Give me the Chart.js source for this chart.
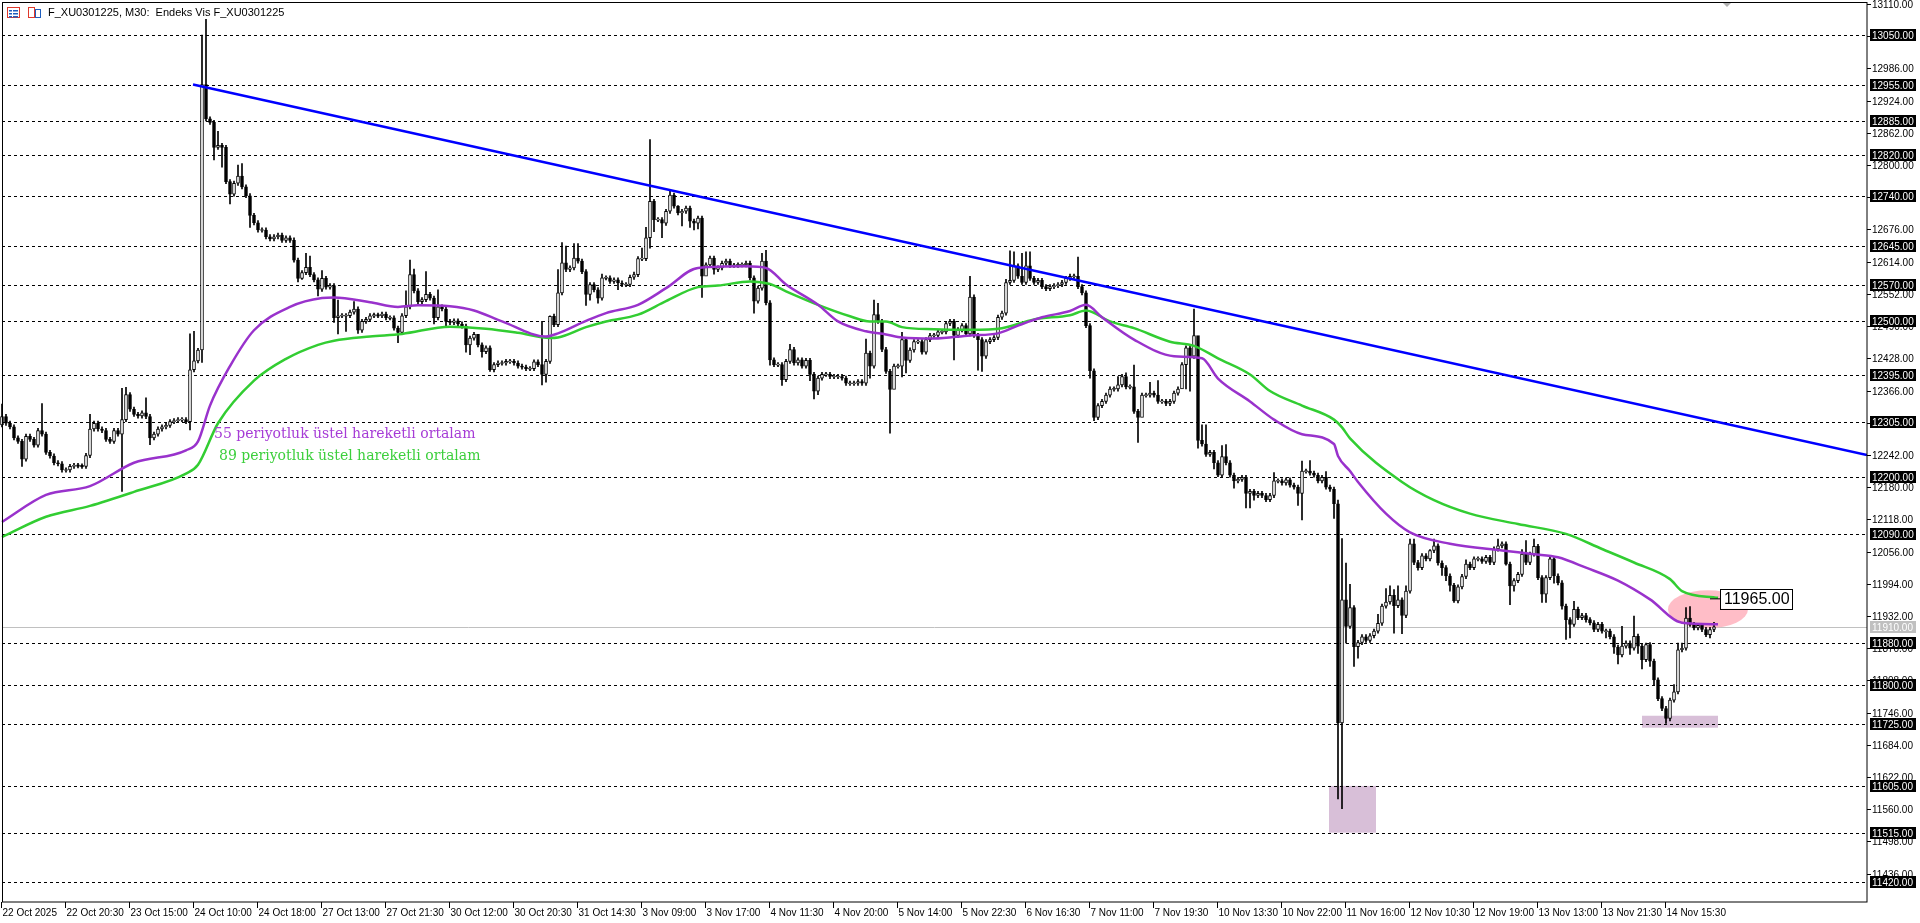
<!DOCTYPE html>
<html><head><meta charset="utf-8">
<script src="https://cdn.jsdelivr.net/npm/chart.js@4.4.1/dist/chart.umd.min.js"></script>
<style>html,body{margin:0;padding:0;background:#fff;overflow:hidden}#wrap{width:1920px;height:923px;position:relative}</style>
</head><body><div id="wrap"><canvas id="c" width="1920" height="923"></canvas></div>
<script>
const firstOpen = 12300;
const closes = [
12316,12303,12296,12275,12268,12234,12278,12272,12261,12289,
12282,12247,12240,12227,12225,12213,12213,12220,12222,12221,
12220,12241,12292,12303,12292,12289,12272,12268,12289,12282,
12310,12358,12330,12320,12317,12323,12316,12275,12282,12292,
12296,12299,12306,12308,12310,12310,12306,12406,12423,12444,
12955,12889,12882,12834,12838,12834,12768,12744,12765,12779,
12758,12741,12703,12689,12675,12675,12662,12658,12662,12665,
12655,12660,12655,12617,12582,12593,12603,12589,12579,12561,
12582,12565,12568,12506,12510,12510,12510,12517,12523,12482,
12499,12503,12510,12511,12510,12513,12506,12506,12486,12478,
12510,12527,12589,12558,12537,12541,12551,12544,12506,12527,
12523,12499,12497,12500,12494,12490,12454,12467,12474,12454,
12441,12448,12406,12416,12419,12419,12422,12422,12419,12413,
12411,12408,12408,12421,12416,12397,12422,12509,12493,12554,
12612,12599,12602,12621,12615,12595,12551,12570,12560,12544,
12583,12583,12576,12579,12573,12570,12570,12584,12589,12620,
12620,12660,12730,12695,12695,12688,12711,12742,12721,12708,
12711,12717,12692,12688,12698,12586,12608,12621,12599,12602,
12611,12615,12607,12607,12608,12608,12611,12583,12538,12563,
12615,12535,12425,12416,12416,12387,12422,12445,12419,12425,
12413,12424,12397,12365,12390,12397,12397,12393,12393,12393,
12390,12380,12380,12380,12383,12380,12438,12413,12512,12499,
12445,12403,12368,12413,12413,12464,12424,12444,12460,12460,
12440,12464,12472,12472,12479,12479,12495,12499,12472,12483,
12491,12475,12546,12472,12464,12432,12460,12464,12468,12507,
12515,12574,12578,12606,12586,12574,12606,12582,12574,12578,
12566,12562,12566,12568,12570,12574,12582,12586,12586,12566,
12554,12491,12404,12314,12337,12345,12357,12369,12369,12377,
12393,12373,12373,12326,12314,12357,12357,12361,12357,12345,
12345,12341,12345,12361,12369,12416,12448,12432,12472,12270,
12263,12243,12247,12227,12203,12239,12227,12203,12192,12195,
12199,12168,12172,12164,12168,12164,12156,12164,12192,12192,
12188,12194,12184,12180,12168,12211,12211,12207,12203,12192,
12199,12180,12176,12148,11726,11963,11912,11948,11873,11881,
11892,11885,11894,11903,11918,11951,11959,11972,11952,11963,
11933,11980,12071,12035,12025,12048,12042,12058,12067,12034,
12025,12009,11991,11961,11988,12008,12032,12025,12042,12042,
12037,12045,12035,12061,12067,12071,12032,11990,12000,12012,
12051,12035,12051,12066,12006,11974,12006,12042,12009,11996,
11951,11925,11916,11945,11929,11933,11925,11919,11906,11916,
11903,11903,11892,11872,11857,11874,11880,11870,11893,11874,
11848,11877,11845,11809,11773,11754,11735,11770,11786,11867,
11870,11928,11916,11909,11914,11906,11896,11906,11911];
const highWicks = {0:12340,10:12341,22:12320,30:12370,31:12372,36:12352,47:12475,48:12480,49:12447,50:13050,51:13096,54:12865,59:12800,60:12803,73:12660,76:12630,77:12625,80:12597,84:12540,88:12537,101:12558,102:12617,103:12600,106:12595,109:12560,
119:12470,135:12499,137:12510,139:12599,140:12651,141:12644,143:12649,144:12649,150:12590,158:12594,160:12640,161:12680,162:12849,167:12750,169:12722,190:12630,191:12636,197:12455,216:12465,218:12540,219:12534,
225:12478,242:12586,251:12580,252:12635,253:12633,255:12630,256:12633,257:12633,269:12623,279:12393,281:12400,283:12415,287:12382,289:12385,298:12523,299:12460,300:12300,301:12300,305:12260,306:12262,318:12208,325:12230,327:12231,331:12210,334:12155,335:12081,336:12034,
337:11993,344:11935,346:11985,347:11990,348:11983,349:11990,351:11990,352:12080,353:12080,357:12060,358:12080,366:12040,373:12065,374:12080,380:12060,381:12077,383:12080,393:11960,405:11912,408:11932,411:11880,418:11800,419:11880,420:11880,421:11948,422:11950,428:11920};
const lowWicks = {5:12220,30:12172,37:12262,47:12290,50:12420,53:12810,55:12796,57:12725,62:12680,74:12575,75:12580,79:12548,83:12497,84:12475,86:12480,89:12476,99:12458,108:12494,111:12490,
116:12440,117:12435,120:12430,122:12403,135:12377,136:12382,146:12530,147:12540,149:12534,154:12560,162:12640,163:12672,165:12660,170:12683,172:12680,173:12675,174:12677,175:12545,176:12600,178:12590,188:12515,192:12415,195:12376,202:12385,203:12350,204:12358,217:12390,222:12284,223:12398,
225:12392,226:12400,238:12425,244:12405,245:12403,272:12390,273:12308,274:12310,284:12266,285:12320,295:12395,296:12369,297:12365,299:12255,303:12215,304:12200,308:12178,311:12140,312:12140,313:12155,324:12145,325:12117,333:12120,334:11580,335:11561,336:11880,
338:11835,339:11851,348:11899,350:11898,354:12020,360:12010,361:12000,362:11980,363:11958,376:12030,377:11954,378:11980,385:11958,386:11958,388:11995,390:11945,391:11887,392:11890,396:11920,401:11890,403:11860,404:11840,407:11858,409:11860,410:11830,412:11835,413:11800,416:11725,417:11730,427:11890};
const ema55Bars = [0,11,22,33,46,49,52,57,63,72,80,83,92,99,104,112,118,125,136,139,146,151,159,166,174,186,191,196,204,209,216,221,225,233,242,249,254,260,267,271,275,283,293,300,304,312,318,325,333,334,337,339,346,352,362,375,383,389,396,404,412,420,429];
const ema55Vals = [12113,12165,12182,12227,12251,12268,12337,12413,12482,12527,12544,12545,12536,12527,12530,12528,12520,12499,12470,12476,12500,12515,12531,12563,12602,12605,12602,12570,12531,12499,12480,12474,12468,12466,12472,12476,12491,12507,12519,12531,12507,12464,12432,12428,12389,12345,12310,12282,12263,12240,12211,12190,12129,12093,12071,12058,12051,12045,12025,12000,11964,11919,11916];
const ema89Bars = [0,11,22,33,46,49,54,63,71,79,83,92,100,112,121,129,137,139,146,151,159,166,174,179,187,192,196,204,212,217,221,225,233,242,250,258,267,271,277,283,292,298,304,312,317,325,333,335,337,350,358,367,379,391,400,408,417,420,429];
const ema89Vals = [12084,12123,12144,12171,12206,12223,12303,12385,12427,12454,12462,12470,12475,12489,12485,12477,12467,12468,12488,12499,12512,12538,12565,12568,12576,12571,12557,12531,12509,12499,12499,12488,12484,12483,12486,12503,12511,12520,12499,12486,12460,12452,12428,12397,12365,12337,12310,12295,12274,12190,12155,12129,12109,12090,12061,12035,12003,11980,11967];
const trendBars = [47.75, 466.25];
const trendVals = [12955, 12242];
const levelLines = [13050,12955,12885,12820,12740,12645,12570,12500,12395,12305,12200,12090,11880,11800,11725,11605,11515,11420];
const currentPrice = 11910;
const yTicks = [13110,13048,12986,12924,12862,12800,12738,12676,12614,12552,12490,12428,12366,12304,12242,12180,12118,12056,11994,11932,11870,11808,11746,11684,11622,11560,11498,11436];
const xLabels = ['22 Oct 2025','22 Oct 20:30','23 Oct 15:00','24 Oct 10:00','24 Oct 18:00','27 Oct 13:00','27 Oct 21:30','30 Oct 12:00','30 Oct 20:30','31 Oct 14:30','3 Nov 09:00','3 Nov 17:00','4 Nov 11:30','4 Nov 20:00','5 Nov 14:00','5 Nov 22:30','6 Nov 16:30','7 Nov 11:00','7 Nov 19:30','10 Nov 13:30','10 Nov 22:00','11 Nov 16:00','12 Nov 10:30','12 Nov 19:00','13 Nov 13:00','13 Nov 21:30','14 Nov 15:30'];
const xLabelStep = 16;
const zoneBoxes = [{x0:331.75,x1:343.5,y0:11515,y1:11605},{x0:410,x1:429,y0:11717,y1:11740}];
const markLabel = 11965;
const ema55Text = '55 periyotluk üstel hareketli ortalam';
const ema89Text = '89 periyotluk üstel hareketli ortalam';
const title = 'F_XU0301225, M30:  Endeks Vis F_XU0301225';

const opens = closes.map((c,i)=> i===0 ? firstOpen : closes[i-1]);
const bodies = [], wicks = [], bodyColors = [];
closes.forEach((c,i)=>{
  const o = opens[i];
  let lo = Math.min(o,c), hi = Math.max(o,c);
  const b = hi-lo < 2 ? [lo-1, hi+1] : [o, c];
  bodies.push({x:i, y:b});
  bodyColors.push(c >= o ? '#ffffff' : '#000000');
  const h = highWicks[i] !== undefined ? highWicks[i] : hi + 4;
  const l = lowWicks[i] !== undefined ? lowWicks[i] : lo - 4;
  wicks.push({x:i, y:[l, h]});
});
const pts = (xs, ys) => xs.map((x,i)=>({x, y: ys[i]}));

const YMIN = 11381.5, YMAX = 13117.7, XMIN = -0.5, XMAX = 466.25;

const deco = {
  id:'deco',
  beforeDatasetsDraw(chart){
    const ctx = chart.ctx, x = chart.scales.x, y = chart.scales.y, a = chart.chartArea;
    ctx.save();
    ctx.fillStyle = '#d8bfd8';
    zoneBoxes.forEach(z=>{
      const px0 = x.getPixelForValue(z.x0), px1 = x.getPixelForValue(z.x1);
      const py0 = y.getPixelForValue(z.y1), py1 = y.getPixelForValue(z.y0);
      ctx.fillRect(px0, py0, px1-px0, py1-py0);
    });
    ctx.strokeStyle = '#000'; ctx.lineWidth = 1; ctx.setLineDash([3,3]);
    levelLines.forEach(v=>{
      const py = Math.round(y.getPixelForValue(v))+0.5;
      ctx.beginPath(); ctx.moveTo(a.left+2, py); ctx.lineTo(a.right, py); ctx.stroke();
    });
    ctx.setLineDash([]);
    ctx.strokeStyle = '#c0c0c0';
    const cp = Math.round(y.getPixelForValue(currentPrice))+0.5;
    ctx.beginPath(); ctx.moveTo(a.left+2, cp); ctx.lineTo(a.right, cp); ctx.stroke();
    ctx.fillStyle = 'rgba(255,182,193,0.9)';
    ctx.beginPath();
    ctx.ellipse(x.getPixelForValue(426.5), y.getPixelForValue(11945), 40, 19, 0, 0, Math.PI*2);
    ctx.fill();
    ctx.restore();
  },
  afterDraw(chart){
    const ctx = chart.ctx, x = chart.scales.x, y = chart.scales.y, a = chart.chartArea;
    ctx.save();
    ctx.strokeStyle = '#000'; ctx.lineWidth = 1;
    ctx.strokeRect(2.5, 2.5, a.right-2.5, a.bottom-2.5);
    ctx.font = '10px "Liberation Sans"'; ctx.textBaseline = 'middle'; ctx.textAlign = 'left';
    ctx.fillStyle = '#000';
    yTicks.forEach(v=>{
      const py = Math.round(y.getPixelForValue(v))+0.5;
      ctx.beginPath(); ctx.moveTo(a.right, py); ctx.lineTo(a.right+4, py); ctx.stroke();
      ctx.fillText(v.toFixed(2), a.right+5, py+1);
    });
    const boxLabel = (v, bg, fg)=>{
      const py = Math.round(y.getPixelForValue(v));
      ctx.fillStyle = bg; ctx.fillRect(a.right+3, py-6, 46, 12);
      ctx.fillStyle = fg; ctx.fillText(v.toFixed(2), a.right+5, py+1);
    };
    levelLines.forEach(v=> boxLabel(v, '#000', '#fff'));
    boxLabel(currentPrice, '#c0c0c0', '#fff');
    ctx.textBaseline = 'top';
    xLabels.forEach((t,k)=>{
      const px = Math.round(x.getPixelForValue(k*xLabelStep - 0.25))+0.5;
      ctx.strokeStyle = '#000';
      ctx.beginPath(); ctx.moveTo(px, a.bottom); ctx.lineTo(px, a.bottom+6); ctx.stroke();
      ctx.fillStyle = '#000';
      ctx.fillText(t, px+1, a.bottom+6);
    });
    ctx.fillStyle = '#fff'; ctx.fillRect(4,5,240,14);
    ctx.strokeStyle = '#e0392b'; ctx.lineWidth = 1;
    ctx.strokeRect(7.5,7.5,12,10);
    ctx.fillStyle = '#1f5fbf';
    [10,13,16].forEach(yy=>{ ctx.fillRect(9,yy,3,1.5); ctx.fillRect(13,yy,5,1.5); });
    ctx.strokeStyle = '#e0392b'; ctx.strokeRect(28.5,7.5,6,10);
    ctx.strokeStyle = '#1f5fbf'; ctx.strokeRect(35.5,9.5,5,8);
    ctx.fillStyle = '#000'; ctx.textBaseline = 'middle';
    ctx.font = '11px "Liberation Sans"';
    ctx.fillText(title, 48, 13);
    ctx.font = '14px "DejaVu Serif"';
    ctx.fillStyle = '#a63cd6'; ctx.textBaseline = 'alphabetic';
    ctx.fillText(ema55Text, 214, 438);
    ctx.fillStyle = '#3ccf3c';
    ctx.fillText(ema89Text, 219, 460);
    const lx = x.getPixelForValue(429.5), ly = y.getPixelForValue(11965);
    ctx.strokeStyle = '#000'; ctx.lineWidth = 1;
    ctx.beginPath(); ctx.moveTo(x.getPixelForValue(427), ly); ctx.lineTo(lx, ly); ctx.stroke();
    ctx.fillStyle = '#fff'; ctx.fillRect(lx, ly-10, 72, 20);
    ctx.strokeRect(Math.round(lx)+0.5, Math.round(ly-10)+0.5, 72, 20);
    ctx.fillStyle = '#000'; ctx.font = '16px "Liberation Sans"'; ctx.textBaseline = 'middle';
    ctx.fillText(markLabel.toFixed(2), lx+4, ly+1);
    ctx.fillStyle = '#b0b0b0';
    ctx.beginPath(); ctx.moveTo(1723,3); ctx.lineTo(1731,3); ctx.lineTo(1727,7); ctx.fill();
    ctx.restore();
  }
};

new Chart(document.getElementById('c'), {
  data: {
    datasets: [
      {type:'line', label:'trend', data: pts(trendBars, trendVals), borderColor:'#0000ff', borderWidth:2.5, pointRadius:0, order:0},
      {type:'line', label:'EMA55', data: pts(ema55Bars, ema55Vals), borderColor:'#9932cc', borderWidth:2.5, pointRadius:0, cubicInterpolationMode:'monotone', order:1},
      {type:'line', label:'EMA89', data: pts(ema89Bars, ema89Vals), borderColor:'#32cd32', borderWidth:2.5, pointRadius:0, cubicInterpolationMode:'monotone', order:1},
      {type:'bar', label:'body', data: bodies, backgroundColor: bodyColors, borderColor:'#000', borderWidth:1, borderSkipped:false, barThickness:3, grouped:false, order:2},
      {type:'bar', label:'wick', data: wicks, backgroundColor:'#000', borderWidth:0, barThickness:1, grouped:false, order:3}
    ]
  },
  options: {
    responsive:false, animation:false, devicePixelRatio:1,
    layout:{padding:{left:0, right:53, top:0, bottom:21}},
    plugins:{legend:{display:false}, tooltip:{enabled:false}},
    scales:{
      x:{type:'linear', min:XMIN, max:XMAX, display:false, offset:false},
      y:{type:'linear', min:YMIN, max:YMAX, display:false}
    }
  },
  plugins:[deco]
});
</script></body></html>
